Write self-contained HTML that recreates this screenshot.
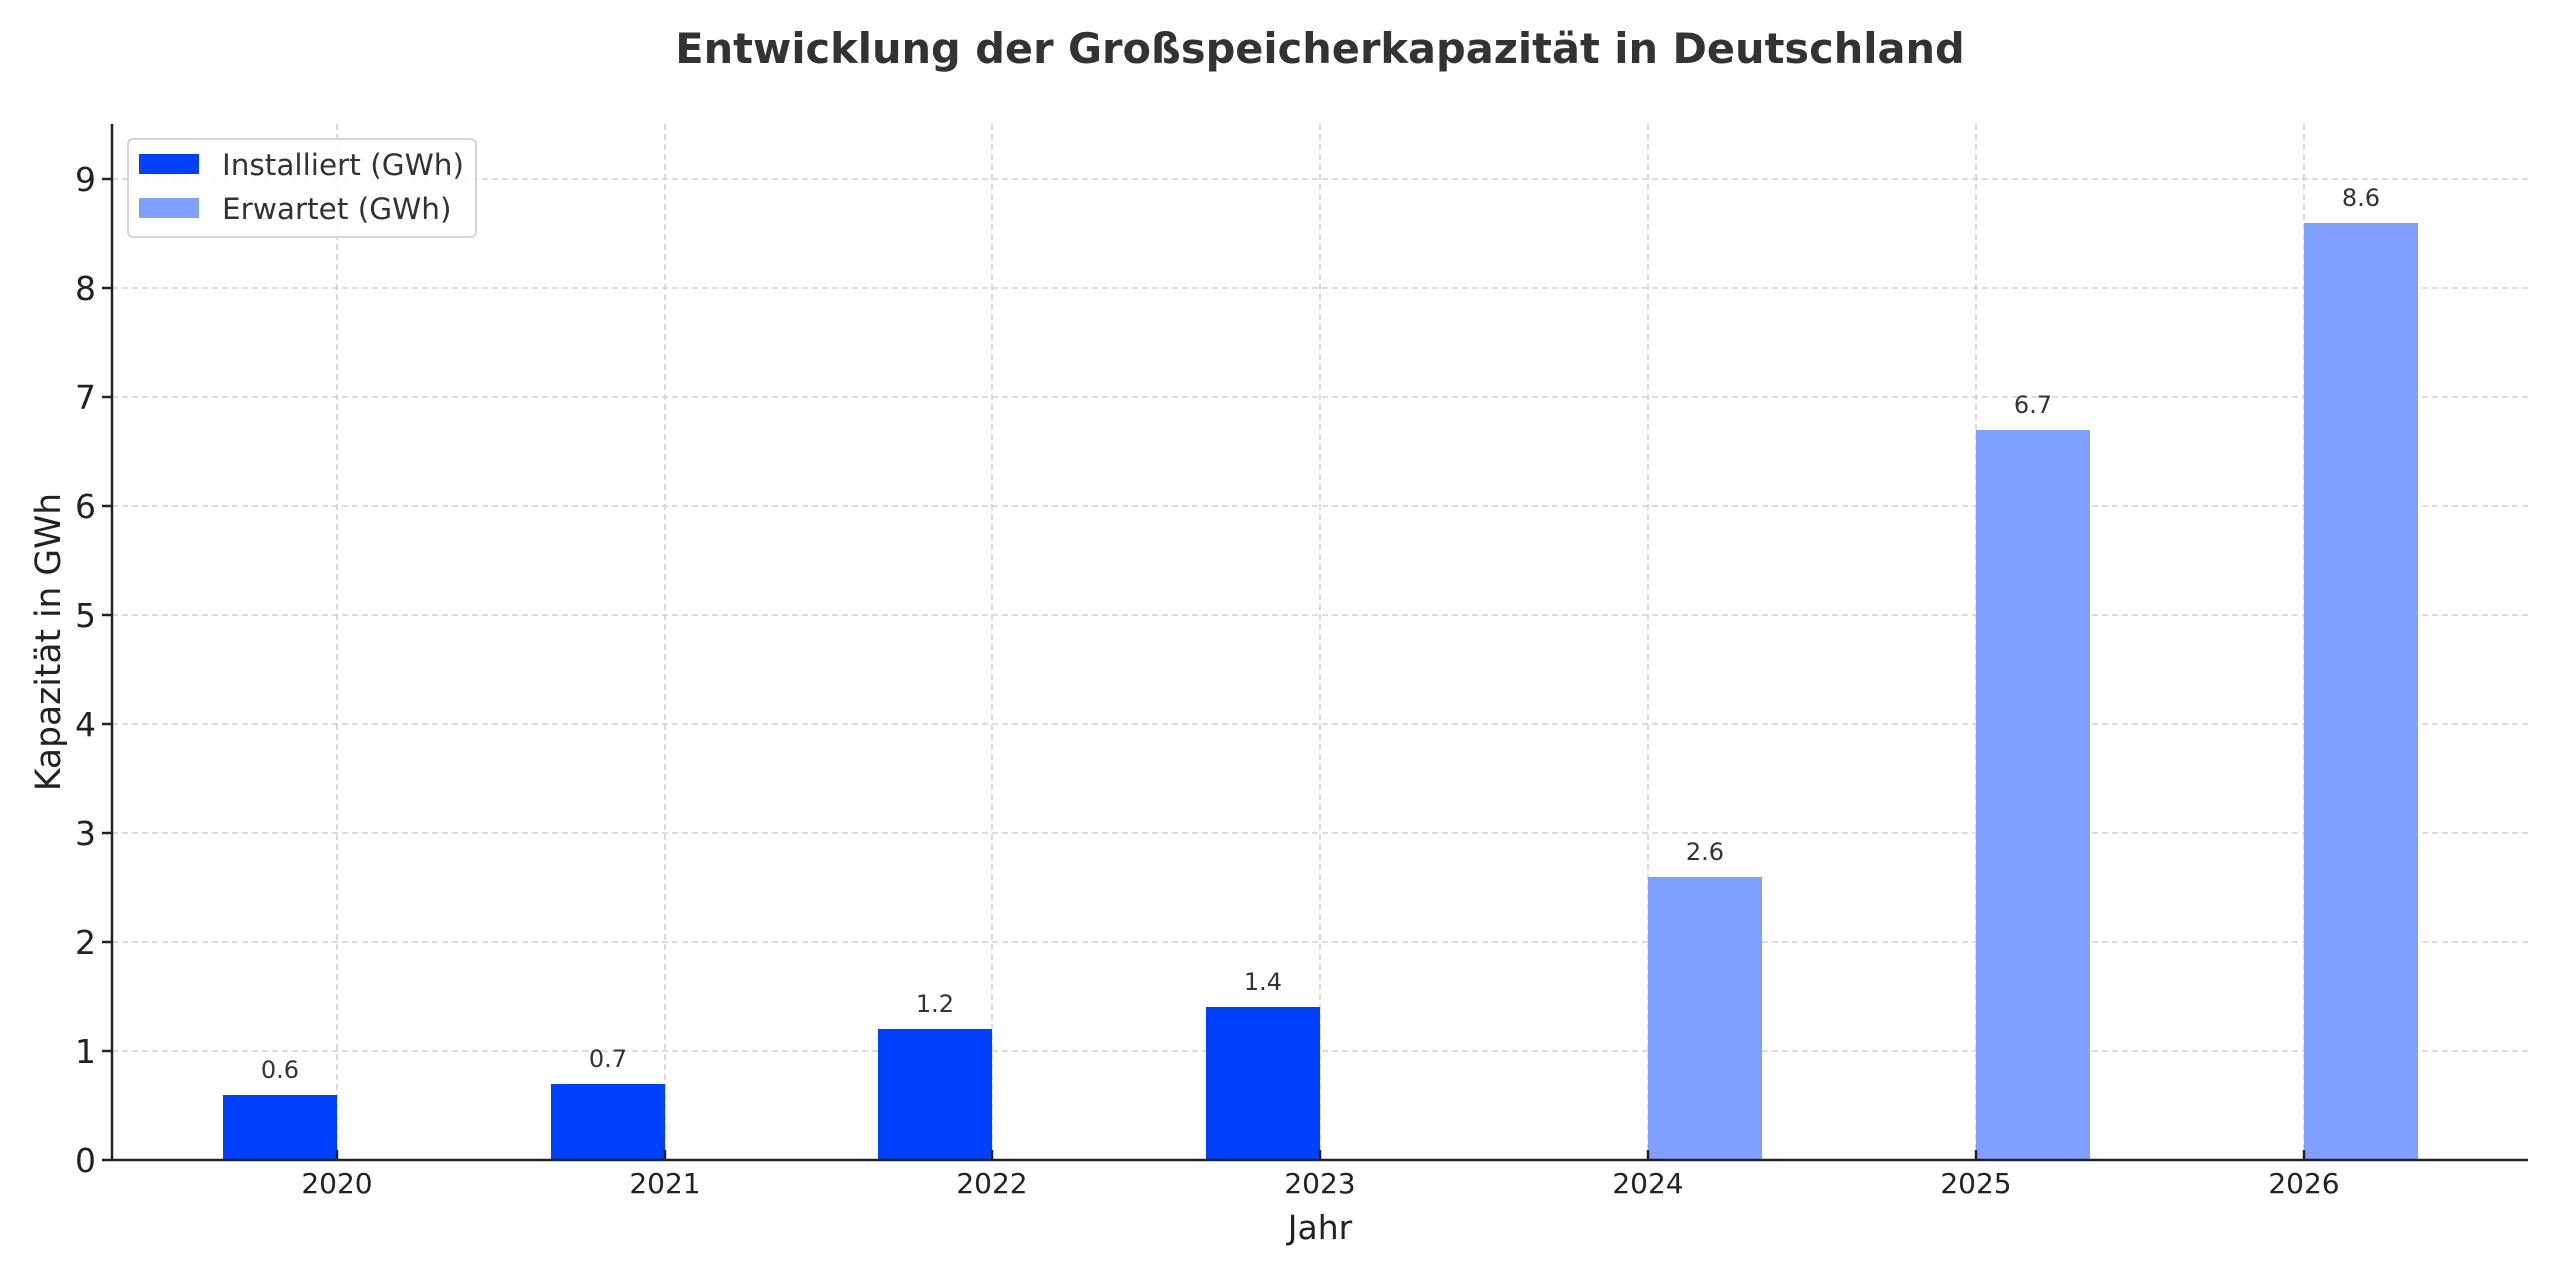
<!DOCTYPE html>
<html><head><meta charset="utf-8"><style>body{margin:0;background:#fff}svg{display:block}</style></head>
<body>
<svg width="2560" height="1280" xmlns="http://www.w3.org/2000/svg" font-family="'DejaVu Sans','Liberation Sans',sans-serif">
<rect width="2560" height="1280" fill="#fff"/>
<text x="1320" y="63" text-anchor="middle" font-size="41.5" font-weight="bold" fill="#333">Entwicklung der Großspeicherkapazität in Deutschland</text>
<g stroke="#d0d0d0" stroke-width="1.6" stroke-dasharray="6,4">
<line x1="112" x2="2528" y1="1051" y2="1051"/><line x1="112" x2="2528" y1="942" y2="942"/><line x1="112" x2="2528" y1="833" y2="833"/><line x1="112" x2="2528" y1="724" y2="724"/><line x1="112" x2="2528" y1="615" y2="615"/><line x1="112" x2="2528" y1="506" y2="506"/><line x1="112" x2="2528" y1="397" y2="397"/><line x1="112" x2="2528" y1="288" y2="288"/><line x1="112" x2="2528" y1="179" y2="179"/>
<line x1="337" x2="337" y1="124" y2="1160"/><line x1="665" x2="665" y1="124" y2="1160"/><line x1="992" x2="992" y1="124" y2="1160"/><line x1="1320" x2="1320" y1="124" y2="1160"/><line x1="1648" x2="1648" y1="124" y2="1160"/><line x1="1976" x2="1976" y1="124" y2="1160"/><line x1="2304" x2="2304" y1="124" y2="1160"/>
</g>
<g fill="#0040ff">
<rect x="223" y="1095" width="114" height="65"/>
<rect x="551" y="1084" width="114" height="76"/>
<rect x="878" y="1029" width="114" height="131"/>
<rect x="1206" y="1007" width="114" height="153"/>
</g>
<g fill="#80a0ff">
<rect x="1648" y="877" width="114" height="283"/>
<rect x="1976" y="430" width="114" height="730"/>
<rect x="2304" y="223" width="114" height="937"/>
</g>
<g font-size="24" fill="#333" text-anchor="middle">
<text x="280" y="1078">0.6</text><text x="608" y="1067">0.7</text><text x="935" y="1012">1.2</text><text x="1263" y="990">1.4</text>
<text x="1705" y="860">2.6</text><text x="2033" y="413">6.7</text><text x="2361" y="206">8.6</text>
</g>
<g stroke="#222" stroke-width="2.5" fill="none">
<line x1="112" y1="124" x2="112" y2="1161"/><line x1="111" y1="1160" x2="2528" y2="1160"/>
</g>
<g stroke="#222" stroke-width="2.5">
<line x1="102" x2="112" y1="1160" y2="1160"/><line x1="102" x2="112" y1="1051" y2="1051"/><line x1="102" x2="112" y1="942" y2="942"/><line x1="102" x2="112" y1="833" y2="833"/><line x1="102" x2="112" y1="724" y2="724"/><line x1="102" x2="112" y1="615" y2="615"/><line x1="102" x2="112" y1="506" y2="506"/><line x1="102" x2="112" y1="397" y2="397"/><line x1="102" x2="112" y1="288" y2="288"/><line x1="102" x2="112" y1="179" y2="179"/>
<line x1="337" x2="337" y1="1160" y2="1150"/><line x1="665" x2="665" y1="1160" y2="1150"/><line x1="992" x2="992" y1="1160" y2="1150"/><line x1="1320" x2="1320" y1="1160" y2="1150"/><line x1="1648" x2="1648" y1="1160" y2="1150"/><line x1="1976" x2="1976" y1="1160" y2="1150"/><line x1="2304" x2="2304" y1="1160" y2="1150"/>
</g>
<g font-size="33" fill="#222" text-anchor="end">
<text x="96" y="1172">0</text><text x="96" y="1063">1</text><text x="96" y="954">2</text><text x="96" y="845">3</text><text x="96" y="736">4</text><text x="96" y="627">5</text><text x="96" y="518">6</text><text x="96" y="409">7</text><text x="96" y="300">8</text><text x="96" y="191">9</text>
</g>
<g font-size="28" fill="#222" text-anchor="middle">
<text x="337" y="1193">2020</text><text x="665" y="1193">2021</text><text x="992" y="1193">2022</text><text x="1320" y="1193">2023</text><text x="1648" y="1193">2024</text><text x="1976" y="1193">2025</text><text x="2304" y="1193">2026</text>
</g>
<text x="1320" y="1239" font-size="33" fill="#222" text-anchor="middle">Jahr</text>
<text transform="translate(60,642) rotate(-90)" font-size="34.5" fill="#222" text-anchor="middle">Kapazität in GWh</text>
<rect x="128" y="139" width="348" height="98" rx="5" fill="#fff" fill-opacity="0.85" stroke="#d5d5d5" stroke-width="2"/>
<rect x="139" y="154" width="60" height="20" fill="#0040ff"/>
<rect x="139" y="198" width="60" height="20" fill="#80a0ff"/>
<g font-size="29.5" fill="#333"><text x="222" y="175">Installiert (GWh)</text><text x="222" y="219">Erwartet (GWh)</text></g>
</svg>
</body></html>
